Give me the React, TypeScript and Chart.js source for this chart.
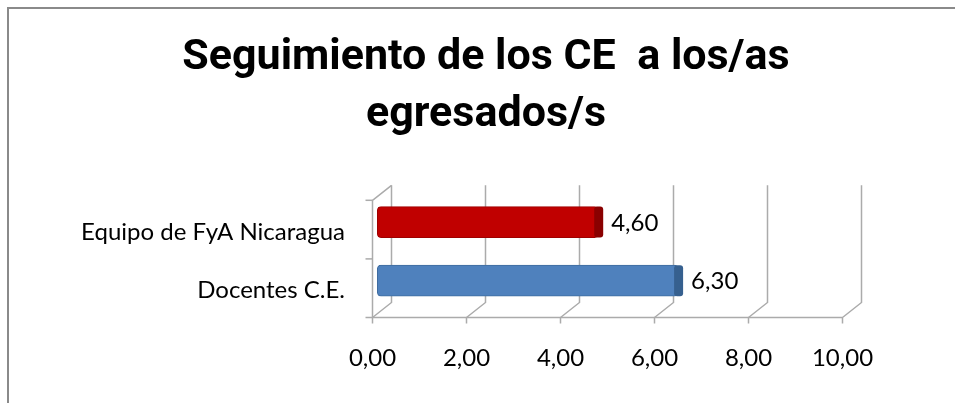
import React, { useEffect, useRef } from "react";
import { Chart, registerables } from "chart.js";
Chart.register(...registerables);

const categories = ["Equipo de FyA Nicaragua", "Docentes C.E."];
const values = [4.6, 6.3];
const barColors = ["#C00000", "#4F81BD"];
const barEdgeColors = ["#9E0000", "#3F6C9F"];
const barEndColors = ["#8A0000", "#36608F"];
const titleLines = ["Seguimiento de los CE  a los/as", "egresados/s"];
const xMin = 0;
const xMax = 10;
const xStep = 2;

const LABEL_FONT = "Lato, 'Liberation Sans', sans-serif";
const DX = 9.5;
const DY = 7.5;

const fmt = (v: number) => Number(v).toFixed(2).replace(".", ",");

const grid3d = {
  id: "grid3d",
  beforeDatasetsDraw(chart: any) {
    const { ctx, chartArea, scales } = chart;
    const xs = scales.x;
    const { top, bottom } = chartArea;
    ctx.save();
    ctx.strokeStyle = "#ababab";
    ctx.lineWidth = 1.5;
    const ticks: number[] = xs.ticks.map((t: any) => t.value);
    for (const v of ticks) {
      const X = xs.getPixelForValue(v);
      ctx.beginPath();
      ctx.moveTo(X + DX, top - DY);
      ctx.lineTo(X + DX, bottom - DY);
      ctx.lineTo(X - DX, bottom + DY);
      ctx.lineTo(X - DX, bottom + DY + 6);
      ctx.stroke();
    }
    const x0 = xs.getPixelForValue(xMin);
    const x1 = xs.getPixelForValue(xMax);
    ctx.beginPath();
    ctx.moveTo(x0 - DX, bottom + DY);
    ctx.lineTo(x1 - DX, bottom + DY);
    ctx.stroke();
    // left wall
    ctx.beginPath();
    ctx.moveTo(x0 + DX, top - DY);
    ctx.lineTo(x0 - DX, top + DY);
    ctx.lineTo(x0 - DX, bottom + DY);
    ctx.stroke();
    const n = categories.length;
    for (let i = 0; i <= n; i++) {
      const y = top + ((bottom - top) * i) / n + DY;
      ctx.beginPath();
      ctx.moveTo(x0 - DX - 7, y);
      ctx.lineTo(x0 - DX, y);
      ctx.stroke();
    }
    ctx.restore();
  },
  afterDatasetsDraw(chart: any) {
    const { ctx } = chart;
    const meta = chart.getDatasetMeta(0);
    ctx.save();
    meta.data.forEach((el: any, i: number) => {
      const h = el.height;
      const y0 = el.y - h / 2;
      ctx.fillStyle = barEndColors[i];
      ctx.beginPath();
      (ctx as any).roundRect(el.x - 4, y0, 9, h, 3);
      ctx.fill();
      ctx.fillStyle = "#000";
      ctx.font = `24px ${LABEL_FONT}`;
      ctx.textAlign = "left";
      ctx.textBaseline = "middle";
      ctx.fillText(fmt(values[i]), el.x + 13, el.y + 1);
    });
    ctx.restore();
  },
};

export default function App() {
  const ref = useRef<HTMLCanvasElement>(null);
  useEffect(() => {
    const chart = new Chart(ref.current!, {
      type: "bar",
      data: {
        labels: categories,
        datasets: [
          {
            data: values,
            backgroundColor: barColors,
            borderColor: barEdgeColors,
            borderWidth: 1,
            borderSkipped: false,
            borderRadius: 4,
            barThickness: 31,
            base: -0.1,
            clip: false,
          },
        ],
      },
      options: {
        indexAxis: "y",
        animation: false,
        responsive: false,
        maintainAspectRatio: false,
        devicePixelRatio: 1,
        layout: { padding: { left: 60, right: 43, top: 0, bottom: 0 } },
        plugins: {
          legend: { display: false },
          tooltip: { enabled: false },
          title: {
            display: true,
            text: titleLines,
            color: "#000",
            font: { family: "Roboto, sans-serif", size: 43, weight: "bold", lineHeight: 57 / 43 },
            padding: { top: 29.8, bottom: 49 },
          },
        },
        scales: {
          x: {
            type: "linear",
            min: xMin,
            max: xMax,
            ticks: {
              stepSize: xStep,
              callback: (v: any) => fmt(v),
              color: "#000",
              font: { family: LABEL_FONT, size: 24 },
              labelOffset: -DX,
              padding: 34,
            },
            grid: { display: false, drawTicks: false },
            border: { display: false },
            afterFit: (s: any) => {
              s.height = 93;
            },
          },
          y: {
            ticks: {
              color: "#000",
              font: { family: LABEL_FONT, size: 24 },
              padding: 37,
              labelOffset: 10,
            },
            grid: { display: false, drawTicks: false },
            border: { display: false },
            afterFit: (s: any) => {
              s.width = 322;
            },
          },
          y2: {
            type: "linear",
            axis: "y",
            position: "right",
            display: true,
            ticks: { display: false },
            grid: { display: false, drawTicks: false },
            border: { display: false },
            afterFit: (s: any) => {
              s.width = 60;
            },
          },
        },
      },
      plugins: [grid3d],
    });
    return () => chart.destroy();
  }, []);
  return (
    <div style={{ position: "fixed", left: 0, top: 0, width: 955, height: 403, overflow: "hidden", background: "#fff" }}>
      <div
        style={{
          position: "absolute",
          left: 7,
          top: 7,
          width: 1100,
          height: 600,
          border: "2px solid #8a8a8a",
          boxSizing: "border-box",
        }}
      />
      <canvas ref={ref} width={955} height={403} style={{ position: "absolute", left: 0, top: 0, width: 955, height: 403 }} />
    </div>
  );
}
